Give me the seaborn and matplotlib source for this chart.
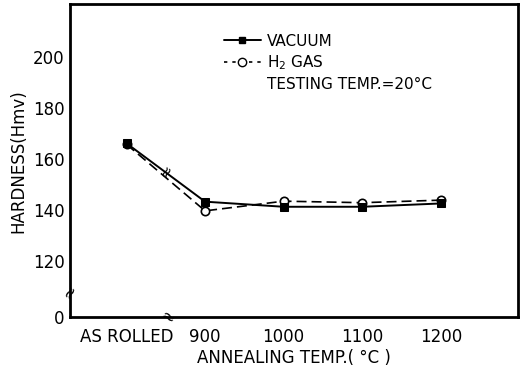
import matplotlib
matplotlib.use("Agg")
import matplotlib.pyplot as plt
import seaborn as sns
import pandas as pd
from matplotlib.lines import Line2D

sns.set_theme(style="white")
plt.rcParams['font.family'] = ['DejaVu Sans']

# ---- data ----
temps = [800, 900, 1000, 1100, 1200]          # 800 = "AS ROLLED"
tick_labels = ["AS ROLLED", "900", "1000", "1100", "1200"]
vacuum = [166.2, 143.3, 141.3, 141.3, 142.6]
h2_gas = [165.8, 139.7, 143.5, 142.9, 143.9]
y_ticks = [98, 120, 140, 160, 180, 200]
y_tick_labels = ["0", "120", "140", "160", "180", "200"]

df = pd.concat([
    pd.DataFrame({"temp": temps, "hardness": vacuum, "series": "VACUUM"}),
    pd.DataFrame({"temp": temps, "hardness": h2_gas, "series": "H$_2$ GAS"}),
])

fig = plt.figure(figsize=(5.22, 3.74), dpi=100)
ax = fig.add_axes([0.134, 0.152, 0.858, 0.837])

sns.lineplot(data=df[df.series == "H$_2$ GAS"], x="temp", y="hardness", ax=ax,
             color="black", lw=1.2, linestyle=(0, (6, 3)), marker="o",
             markersize=6, markerfacecolor="white", markeredgecolor="black",
             markeredgewidth=1.2, legend=False)
sns.lineplot(data=df[df.series == "VACUUM"], x="temp", y="hardness", ax=ax,
             color="black", lw=1.4, marker="s", markersize=5.5,
             markerfacecolor="black", markeredgecolor="black", legend=False)

ax.set_xlim(728, 1298)
ax.set_ylim(98, 220.8)
ax.set_xticks(temps)
ax.set_xticklabels(tick_labels)
ax.set_yticks(y_ticks)
ax.set_yticklabels(y_tick_labels)
ax.tick_params(axis="both", direction="in", length=4, width=1.2, colors="black",
               labelsize=12, pad=4)
ax.tick_params(axis="x", length=0, pad=8)

for s in ax.spines.values():
    s.set_color("black")
    s.set_linewidth(2)

ax.set_xlabel("ANNEALING TEMP.( °C )", fontsize=12, color="black", labelpad=2)
ax.set_ylabel("HARDNESS(Hmv)", fontsize=12, color="black", labelpad=4)

# axis break marks
ax.text(0.0, 0.08, "≈", transform=ax.transAxes, ha="center", va="center",
        fontsize=12, rotation=60, color="black")
ax.text(0.217, 0.0, "≈", transform=ax.transAxes, ha="center", va="center",
        fontsize=12, rotation=-30, color="black")
# break marks on the lines between AS ROLLED and 900
ax.text(850, (vacuum[0] + vacuum[1]) / 2 + 0.5, "≈", ha="center", va="center",
        fontsize=11, rotation=60, color="black")

handles = [
    Line2D([], [], color="black", lw=1.4, marker="s", markersize=5,
           markerfacecolor="black"),
    Line2D([], [], color="black", lw=1.2, linestyle=(0, (2, 3)), marker="o",
           markersize=6, markerfacecolor="white"),
    Line2D([], [], color="none"),
]
labels = ["VACUUM", "H$_2$ GAS", "TESTING TEMP.=20°C"]
leg = ax.legend(handles, labels, loc="upper left", bbox_to_anchor=(0.33, 0.925),
                frameon=False, fontsize=11, handlelength=2.4, handletextpad=0.4,
                labelspacing=0.3, borderaxespad=0)
for t in leg.get_texts():
    t.set_color("black")

fig.savefig("out.png", dpi=100)
